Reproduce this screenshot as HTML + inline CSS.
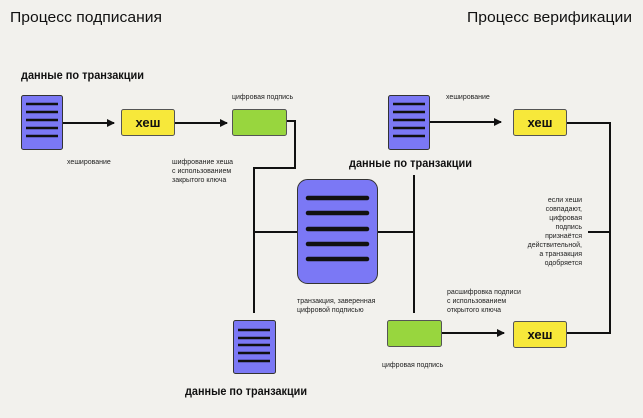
<!DOCTYPE html>
<html><head><meta charset="utf-8"><style>
html,body{margin:0;padding:0;background:#f2f1ed;}
svg{display:block;font-family:"Liberation Sans","Noto Sans CJK SC",sans-serif;}
.s{font-size:7px;fill:#222}
.b{font-size:12px;font-weight:bold;fill:#111}
.h{font-size:13px;font-weight:bold;fill:#111}
</style></head><body>
<svg width="643" height="418" viewBox="0 0 643 418" xmlns="http://www.w3.org/2000/svg">
<rect width="643" height="418" fill="#f2f1ed"/>
<defs><marker id="a" markerWidth="8" markerHeight="8" refX="7" refY="4" orient="auto" markerUnits="userSpaceOnUse"><path d="M0,0 L8,4 L0,8 z" fill="#111"/></marker></defs>
<text x="10" y="22" font-size="15" fill="#111" textLength="152" lengthAdjust="spacingAndGlyphs">Процесс подписания</text>
<text x="467" y="22" font-size="15" fill="#111" textLength="165" lengthAdjust="spacingAndGlyphs">Процесс верификации</text>

<!-- connectors -->
<g stroke="#111" stroke-width="2" fill="none">
<line x1="63" y1="123" x2="114" y2="123" marker-end="url(#a)"/>
<line x1="175" y1="123" x2="227" y2="123" marker-end="url(#a)"/>
<polyline points="287,121 295,121 295,168 254,168"/>
<line x1="254" y1="167" x2="254" y2="313"/>
<line x1="254" y1="232" x2="297" y2="232"/>
<line x1="377" y1="232" x2="414" y2="232"/>
<line x1="414" y1="175" x2="414" y2="313"/>
<line x1="429" y1="122" x2="501" y2="122" marker-end="url(#a)"/>
<line x1="441" y1="333" x2="504" y2="333" marker-end="url(#a)"/>
<polyline points="567,333 610,333 610,123 567,123"/>
<line x1="588" y1="232" x2="610" y2="232"/>
</g>

<!-- doc top-left -->
<rect x="21.5" y="95.5" width="41" height="54" rx="2" fill="#7b78f5" stroke="#333" stroke-width="1"/>
<g stroke="#111" stroke-width="2.5"><line x1="26" y1="104" x2="58" y2="104"/><line x1="26" y1="112" x2="58" y2="112"/><line x1="26" y1="120" x2="58" y2="120"/><line x1="26" y1="128" x2="58" y2="128"/><line x1="26" y1="136" x2="58" y2="136"/></g>
<!-- hash1 -->
<rect x="121.5" y="109.5" width="53" height="26" rx="2" fill="#f7e83a" stroke="#555"/>
<text x="148" y="127" class="h" text-anchor="middle">хеш</text>
<rect x="232.5" y="109.5" width="54" height="26" rx="2" fill="#98d63e" stroke="#555"/>

<!-- doc top right -->
<rect x="388.5" y="95.5" width="41" height="54" rx="2" fill="#7b78f5" stroke="#333"/>
<g stroke="#111" stroke-width="2.5"><line x1="393" y1="104" x2="425" y2="104"/><line x1="393" y1="112" x2="425" y2="112"/><line x1="393" y1="120" x2="425" y2="120"/><line x1="393" y1="128" x2="425" y2="128"/><line x1="393" y1="136" x2="425" y2="136"/></g>
<rect x="513.5" y="109.5" width="53" height="26" rx="2" fill="#f7e83a" stroke="#555"/>
<text x="540" y="127" class="h" text-anchor="middle">хеш</text>

<!-- big doc -->
<rect x="297.5" y="179.5" width="80" height="104" rx="10" fill="#7b78f5" stroke="#333"/>
<g stroke="#111" stroke-width="4.5" stroke-linecap="round"><line x1="308" y1="198" x2="367" y2="198"/><line x1="308" y1="213" x2="367" y2="213"/><line x1="308" y1="229" x2="367" y2="229"/><line x1="308" y1="244" x2="367" y2="244"/><line x1="308" y1="259" x2="367" y2="259"/></g>

<!-- bottom doc -->
<rect x="233.5" y="320.5" width="42" height="53" rx="2" fill="#7b78f5" stroke="#333"/>
<g stroke="#111" stroke-width="2.5"><line x1="238" y1="330" x2="270" y2="330"/><line x1="238" y1="338" x2="270" y2="338"/><line x1="238" y1="345" x2="270" y2="345"/><line x1="238" y1="353" x2="270" y2="353"/><line x1="238" y1="361" x2="270" y2="361"/></g>

<rect x="387.5" y="320.5" width="54" height="26" rx="2" fill="#98d63e" stroke="#555"/>
<rect x="513.5" y="321.5" width="53" height="26" rx="2" fill="#f7e83a" stroke="#555"/>
<text x="540" y="339" class="h" text-anchor="middle">хеш</text>

<!-- labels -->
<text x="21" y="79" class="b" textLength="123" lengthAdjust="spacingAndGlyphs">данные по транзакции</text>
<text x="349" y="167" class="b" textLength="123" lengthAdjust="spacingAndGlyphs">данные по транзакции</text>
<text x="185" y="395" class="b" textLength="122" lengthAdjust="spacingAndGlyphs">данные по транзакции</text>
<text x="232" y="99" class="s">цифровая подпись</text>
<text x="67" y="164" class="s">хеширование</text>
<text x="172" y="164" class="s">шифрование хеша</text>
<text x="172" y="173" class="s">с использованием</text>
<text x="172" y="182" class="s">закрытого ключа</text>
<text x="446" y="99" class="s">хеширование</text>
<text x="297" y="303" class="s">транзакция, заверенная</text>
<text x="297" y="312" class="s">цифровой подписью</text>
<text x="447" y="294" class="s">расшифровка подписи</text>
<text x="447" y="303" class="s">с использованием</text>
<text x="447" y="312" class="s">открытого ключа</text>
<text x="382" y="367" class="s">цифровая подпись</text>
<g class="s" text-anchor="end">
<text x="582" y="202">если хеши</text>
<text x="582" y="211">совпадают,</text>
<text x="582" y="220">цифровая</text>
<text x="582" y="229">подпись</text>
<text x="582" y="238">признаётся</text>
<text x="582" y="247">действительной,</text>
<text x="582" y="256">а транзакция</text>
<text x="582" y="265">одобряется</text>
</g>
</svg>
</body></html>
